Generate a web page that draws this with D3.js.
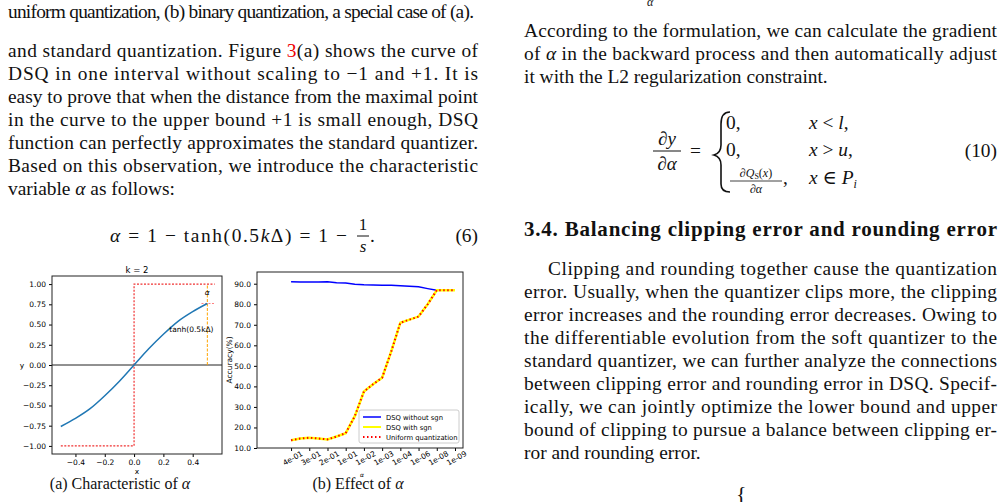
<!DOCTYPE html>
<html><head><meta charset="utf-8">
<script src="https://cdn.jsdelivr.net/npm/d3@7"></script>
<style>body{margin:0;background:#fff}svg{display:block}</style>
</head><body><svg width="1003" height="502"></svg>
<script>
// chart (a): tanh curve vs step
const curveX = [-0.5,-0.4,-0.3,-0.2,-0.1,0,0.1,0.2,0.3,0.4,0.5];
const curveY = [-0.76,-0.66,-0.54,-0.38,-0.2,0,0.2,0.38,0.54,0.66,0.76];
const stepX = [-0.5,0,0,0.55];
const stepY = [-1,-1,1,1];
const aXTicks = [-0.4,-0.2,0,0.2,0.4];
const aYTicks = [-1,-0.75,-0.5,-0.25,0,0.25,0.5,0.75,1];

// chart (b): accuracy vs alpha
const alphaLabels = ["4e-01","3e-01","2e-01","1e-01","1e-02","1e-03","1e-04","1e-06","1e-08","1e-09"];
const stepPos = [0,0.5,1,1.5,2,2.5,3,3.5,4,4.5,5,5.5,6,6.5,7,7.5,8,8.5,9];
const noSgn = [91,90.8,90.8,90.8,90.9,90.5,90.3,89.7,89.5,89.4,89.3,89.2,89.0,88.8,88.5,87.6,86.8,86.8,86.8];
const withSgn = [13.8,14.6,15.0,14.6,14.2,15.6,17.2,25.5,37.5,41,44.2,57,71,72.5,74,80,86.8,86.8,86.8];
const uniform = withSgn.slice();
const bYTicks = [10,20,30,40,50,60,70,80,90];

const svg = d3.select("svg");
const serif = "'Liberation Serif', 'DejaVu Serif', serif";
const sans = "'DejaVu Sans', sans-serif";
const FS = 19.4;

// ---------- body text ----------
function line(x, y, str, w, opts = {}) {
  const t = svg.append("text").attr("x", x).attr("y", y)
    .attr("font-family", serif).attr("font-size", opts.size || FS)
    .attr("font-weight", opts.bold ? "bold" : "normal").attr("fill", "#111");
  if (w) t.attr("textLength", w).attr("lengthAdjust", "spacing");
  if (opts.html) t.html(str); else t.text(str);
  return t;
}
const L = 8, LW = 470, R = 524, RW = 473;
line(L, 18, "uniform quantization, (b) binary quantization, a special case of (a).", 466);
const leftPara = [
  ["and standard quantization.  Figure <tspan fill='#e00'>3</tspan>(a) shows the curve of", true],
  ["DSQ in one interval without scaling to \u22121 and +1.  It is", true],
  ["easy to prove that when the distance from the maximal point", true],
  ["in the curve to the upper bound +1 is small enough, DSQ", true],
  ["function can perfectly approximates the standard quantizer.", true],
  ["Based on this observation, we introduce the characteristic", true],
  ["variable <tspan font-style='italic'>\u03b1</tspan> as follows:", false]
];
leftPara.forEach((d, i) => line(L, 57 + i * 23, d[0], d[1] ? LW : null, { html: true }));

// equation (6)
line(110, 242, "<tspan font-style='italic'>\u03b1</tspan> = 1 \u2212 tanh(0.5<tspan font-style='italic'>k</tspan>\u0394) = 1 \u2212", 237, { html: true });
line(363, 230, "1", null, { size: 17 }).attr("text-anchor", "middle");
svg.append("line").attr("x1", 357).attr("x2", 369).attr("y1", 236).attr("y2", 236).attr("stroke", "#111");
line(363, 252, "s", null, { size: 17 }).attr("text-anchor", "middle").attr("font-style", "italic");
line(370, 242, ".");
line(478, 242, "(6)").attr("text-anchor", "end");

// right column
line(647, 6, "\u03b1", null, { size: 12 }).attr("font-style", "italic");
line(R, 37, "According to the formulation, we can calculate the gradient", RW);
line(R, 60, "of <tspan font-style='italic'>\u03b1</tspan> in the backward process and then automatically adjust", RW, { html: true });
line(R, 83, "it with the L2 regularization constraint.");

// equation (10)
line(667, 145, "\u2202y", null, { size: 19 }).attr("text-anchor", "middle").attr("font-style", "italic");
svg.append("line").attr("x1", 653).attr("x2", 681).attr("y1", 151).attr("y2", 151).attr("stroke", "#111");
line(667, 170, "\u2202\u03b1", null, { size: 19 }).attr("text-anchor", "middle").attr("font-style", "italic");
line(690, 157, "=");
svg.append("path").attr("d", "M730,112 Q721,112 721,124 L721,145 Q721,153 714,155 Q721,157 721,165 L721,184 Q721,192 730,192")
  .attr("fill", "none").attr("stroke", "#111").attr("stroke-width", 1.6);
line(726, 129, "0,");
line(726, 156, "0,");
line(809, 129, "<tspan font-style='italic'>x</tspan> &lt; <tspan font-style='italic'>l</tspan>,", null, { html: true });
line(809, 156, "<tspan font-style='italic'>x</tspan> &gt; <tspan font-style='italic'>u</tspan>,", null, { html: true });
line(756, 177, "<tspan font-style='italic'>\u2202Q</tspan><tspan font-size='8' dy='2'>S</tspan><tspan dy='-2'>(</tspan><tspan font-style='italic'>x</tspan>)", null, { html: true, size: 12 }).attr("text-anchor", "middle");
svg.append("line").attr("x1", 730).attr("x2", 782).attr("y1", 181).attr("y2", 181).attr("stroke", "#111").attr("stroke-width", 0.8);
line(756, 193, "\u2202\u03b1", null, { size: 12 }).attr("text-anchor", "middle").attr("font-style", "italic");
line(783, 184, ",");
line(809, 184, "<tspan font-style='italic'>x</tspan> \u2208 <tspan font-style='italic'>P</tspan><tspan font-size='12' dy='4' font-style='italic'>i</tspan>", null, { html: true });
line(997, 157, "(10)").attr("text-anchor", "end");

line(R, 236, "3.4. Balancing clipping error and rounding error", RW, { bold: true, size: 21 });
const rightPara = [
  "Clipping and rounding together cause the quantization",
  "error. Usually, when the quantizer clips more, the clipping",
  "error increases and the rounding error decreases. Owing to",
  "the differentiable evolution from the soft quantizer to the",
  "standard quantizer, we can further analyze the connections",
  "between clipping error and rounding error in DSQ. Specif-",
  "ically, we can jointly optimize the lower bound and upper",
  "bound of clipping to pursue a balance between clipping er-",
  "ror and rounding error."
];
rightPara.forEach((s, i) => {
  if (i === 0) line(R + 24, 275, s, RW - 24);
  else line(R, 275 + i * 23, s, i < rightPara.length - 1 ? RW : null);
});
line(736, 501, "{", null, { size: 22 });

// ---------- chart (a) ----------
const ax = d3.scaleLinear().domain([-0.56, 0.6]).range([52, 222]);
const ay = d3.scaleLinear().domain([-1.1, 1.1]).range([454, 276]);
const ga = svg.append("g");
ga.append("g").attr("transform", "translate(0,454)")
  .call(d3.axisBottom(ax).tickValues(aXTicks).tickSize(3).tickFormat(d => d3.format(".1f")(d).replace("-", "\u2212")));
ga.append("g").attr("transform", "translate(52,0)")
  .call(d3.axisLeft(ay).tickValues(aYTicks).tickSize(3).tickFormat(d => d3.format(".2f")(d).replace("-", "\u2212")));
ga.append("line").attr("x1", 52).attr("x2", 222).attr("y1", ay(0)).attr("y2", ay(0)).attr("stroke", "#222").attr("stroke-width", 1);
ga.append("path").datum(stepX.map((x, i) => [x, stepY[i]]))
  .attr("d", d3.line().x(d => ax(d[0])).y(d => ay(d[1])))
  .attr("fill", "none").attr("stroke", "#f03030").attr("stroke-width", 1.2).attr("stroke-dasharray", "2,1.5");
ga.append("line").attr("x1", ax(0.46)).attr("x2", ax(0.55)).attr("y1", ay(0.76)).attr("y2", ay(0.76))
  .attr("stroke", "#ff8080").attr("stroke-width", 1.2).attr("stroke-dasharray", "2,1.5");
ga.append("line").attr("x1", ax(0.5)).attr("x2", ax(0.5)).attr("y1", ay(0)).attr("y2", ay(1))
  .attr("stroke", "#ffa500").attr("stroke-width", 1).attr("stroke-dasharray", "3,1.5");
ga.append("path").datum(curveX.map((x, i) => [x, curveY[i]]))
  .attr("d", d3.line().curve(d3.curveMonotoneX).x(d => ax(d[0])).y(d => ay(d[1])))
  .attr("fill", "none").attr("stroke", "#1f77b4").attr("stroke-width", 1.5);
ga.append("rect").attr("x", 52).attr("y", 276).attr("width", 170).attr("height", 178).attr("fill", "none").attr("stroke", "#222");
ga.append("text").attr("x", ax(0.5)).attr("y", ay(0.87)).attr("text-anchor", "middle").attr("font-style", "italic").text("\u03b1");
ga.append("text").attr("x", ax(0.24)).attr("y", ay(0.41)).text("tanh(0.5k\u0394)");
ga.append("text").attr("x", 137).attr("y", 273).attr("text-anchor", "middle").attr("font-size", 8.5).text("k = 2");
ga.append("text").attr("x", 137).attr("y", 474).attr("text-anchor", "middle").text("x");
ga.append("text").attr("x", 22).attr("y", ay(0) + 3).attr("text-anchor", "middle").text("y");
ga.selectAll("text").attr("font-family", sans).attr("font-size", function () { return this.getAttribute("font-size") || 7.5; });
ga.selectAll(".domain").remove();

// ---------- chart (b) ----------
const bx = d3.scaleLinear().domain([-1.87, 9.44]).range([257, 463]);
const by = d3.scaleLinear().domain([10, 95.7]).range([448, 272]);
const gb = svg.append("g");
gb.append("g").attr("transform", "translate(0,448)")
  .call(d3.axisBottom(bx).tickValues(d3.range(alphaLabels.length)).tickSize(3).tickFormat(i => alphaLabels[i]))
  .selectAll("text").attr("text-anchor", "end").attr("transform", "rotate(-30)").attr("dx", "0.9em").attr("dy", "0.8em");
gb.append("g").attr("transform", "translate(257,0)")
  .call(d3.axisLeft(by).tickValues(bYTicks).tickSize(3).tickFormat(d3.format(".1f")));
const bl = d3.line().x((d, i) => bx(stepPos[i])).y(d => by(d));
gb.append("path").datum(noSgn).attr("d", bl).attr("fill", "none").attr("stroke", "#0000ff").attr("stroke-width", 1.5);
gb.append("path").datum(withSgn).attr("d", bl).attr("fill", "none").attr("stroke", "#ffff00").attr("stroke-width", 2.5);
gb.append("path").datum(uniform).attr("d", bl).attr("fill", "none").attr("stroke", "#ff0000").attr("stroke-width", 2).attr("stroke-dasharray", "1.5,2.5");
gb.append("rect").attr("x", 257).attr("y", 272).attr("width", 206).attr("height", 176).attr("fill", "none").attr("stroke", "#222");
const leg = gb.append("g").attr("transform", "translate(359,410)");
leg.append("rect").attr("width", 100).attr("height", 33).attr("rx", 2).attr("fill", "#fff").attr("stroke", "#ccc");
[["DSQ without sgn", "#0000ff", null, 1.5], ["DSQ with sgn", "#ffff00", null, 2], ["Uniform quantization", "#ff0000", "1.5,2.5", 2]]
  .forEach((d, i) => {
    const yy = 7 + i * 10;
    leg.append("line").attr("x1", 4).attr("x2", 22).attr("y1", yy).attr("y2", yy).attr("stroke", d[1])
      .attr("stroke-width", d[3]).attr("stroke-dasharray", d[2]);
    leg.append("text").attr("x", 27).attr("y", yy + 2.5).attr("font-size", 6.8).text(d[0]);
  });
gb.append("text").attr("class", "ylab").attr("transform", "translate(232,360) rotate(-90)").attr("text-anchor", "middle").attr("font-size", 7.5).text("Accuracy(%)");
gb.append("text").attr("x", 362).attr("y", 477).attr("text-anchor", "middle").attr("font-size", 6).attr("font-style", "italic").text("\u03b1");
gb.selectAll("text").attr("font-family", sans).attr("font-size", function () { return this.getAttribute("font-size") || 7.5; });
gb.selectAll(".domain").remove();

// captions
line(120, 489, "(a)  Characteristic of <tspan font-style='italic'>\u03b1</tspan>", null, { html: true, size: 16 }).attr("text-anchor", "middle");
line(358, 489, "(b)  Effect of <tspan font-style='italic'>\u03b1</tspan>", null, { html: true, size: 16 }).attr("text-anchor", "middle");
</script></body></html>
